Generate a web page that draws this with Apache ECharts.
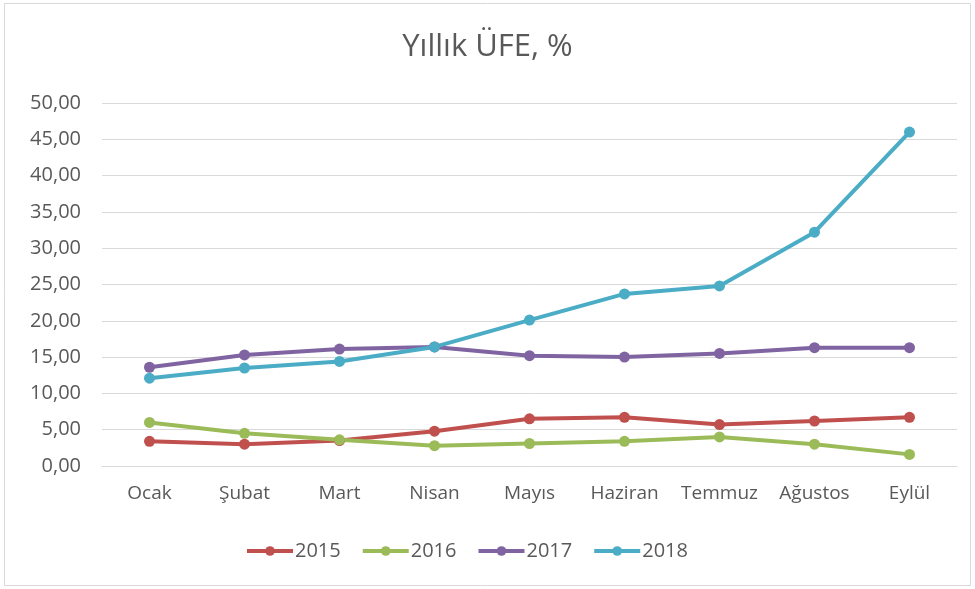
<!DOCTYPE html>
<html><head><meta charset="utf-8">
<script src="https://cdn.jsdelivr.net/npm/echarts@6/dist/echarts.min.js"></script>
<style>html,body{margin:0;padding:0;background:#fff}#c{width:975px;height:589px}</style>
</head><body><div id="c"></div>
<script>
const categories = ['Ocak','Şubat','Mart','Nisan','Mayıs','Haziran','Temmuz','Ağustos','Eylül'];
const s2015 = [3.4, 3.0, 3.5, 4.8, 6.5, 6.7, 5.7, 6.2, 6.7];
const s2016 = [6.0, 4.5, 3.6, 2.8, 3.1, 3.4, 4.0, 3.0, 1.6];
const s2017 = [13.6, 15.3, 16.1, 16.4, 15.2, 15.0, 15.5, 16.3, 16.3];
const s2018 = [12.1, 13.5, 14.4, 16.4, 20.1, 23.7, 24.8, 32.2, 46.0];
const seriesNames = ['2015','2016','2017','2018'];
const colors = ['#C0504D','#9BBB59','#8064A2','#4BACC6'];
const FONT = '"Open Sans", sans-serif';
const chart = echarts.init(document.getElementById('c'));
const mk = (name, data, i) => ({
  name, type: 'line', data, color: colors[i],
  symbol: 'circle', symbolSize: 11,
  lineStyle: {width: 4, color: colors[i]},
  itemStyle: {color: colors[i]},
  emphasis: {disabled: true}
});
chart.setOption({
  animation: false,
  backgroundColor: '#fff',
  graphic: [{type:'rect', shape:{x:4.5,y:3.5,width:966,height:582}, style:{fill:'none', stroke:'#d9d9d9', lineWidth:1}}],
  title: {text: 'Yıllık ÜFE, %', left: 'center', top: 27,
    textStyle: {fontFamily: FONT, fontSize: 31, fontWeight: 'normal', color: '#595959'}},
  grid: {left: 102, right: 18, top: 103, bottom: 123},
  legend: {top: 536, left: 240, itemWidth: 46, itemHeight: 12, itemGap: 20,
    lineStyle: {width: 4},
    textStyle: {fontFamily: FONT, fontSize: 20, color: '#595959', padding: [0,0,0,-3]},
    data: seriesNames},
  xAxis: {type: 'category', data: categories, boundaryGap: true,
    axisLine: {lineStyle: {color: '#d9d9d9'}}, axisTick: {show: false},
    axisLabel: {interval: 0, hideOverlap: false, fontFamily: FONT, fontSize: 19, color: '#595959', margin: 18}},
  yAxis: {type: 'value', min: 0, max: 50, interval: 5,
    axisLine: {show: false}, axisTick: {show: false},
    splitLine: {lineStyle: {color: '#d9d9d9'}},
    axisLabel: {fontFamily: FONT, fontSize: 20, color: '#595959', margin: 21,
      formatter: v => v.toFixed(2).replace('.', ',')}},
  series: [mk('2015', s2015, 0), mk('2016', s2016, 1), mk('2017', s2017, 2), mk('2018', s2018, 3)]
});
</script></body></html>
